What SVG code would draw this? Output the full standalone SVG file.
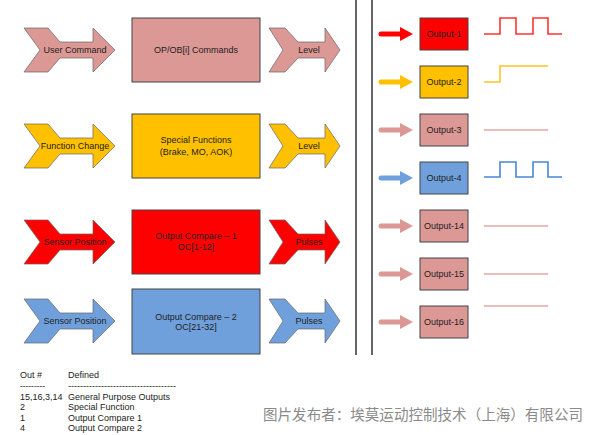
<svg xmlns="http://www.w3.org/2000/svg" xmlns:xlink="http://www.w3.org/1999/xlink" width="600" height="435" viewBox="0 0 600 435">
<style>
.t{font-family:"Liberation Sans",Arial,sans-serif;font-size:9px;fill:#222;text-anchor:middle}
.lg{font-family:"Liberation Sans",Arial,sans-serif;font-size:9px;fill:#222}
.box{stroke:#444;stroke-width:1}
.chev{stroke:#666;stroke-width:0.7}
.pink{fill:#dc9894}.yel{fill:#ffc000}.red{fill:#ff0000}.blu{fill:#6fa0dc}
.wave{fill:none;stroke-width:1.6}
.shaft{stroke-width:5;stroke-linecap:round}
.sep{stroke:#333;stroke-width:1.5}
</style>
<defs>
<path id="bigchev" d="M0,0 H24 L36,14 H69 V0 L91,22 L69,44 V30 H36 L24,44 H0 L16,22 Z"/>
<path id="smallchev" d="M0,0 H16 L29,14 H56 V0 L71,22 L56,44 V30 H29 L16,44 H0 L14,22 Z"/>
<path id="rarrow" d="M0,-7 L13,0 L0,7 Z"/>
</defs>
<rect width="600" height="435" fill="#fff"/>

<g id="connectors">
<line class="sep" x1="356" y1="0" x2="356" y2="355"/>
<line class="sep" x1="372" y1="0" x2="372" y2="355"/>
<g id="arrow-out1"><line class="shaft" x1="381" y1="34" x2="402" y2="34" stroke="#ff0000"/><use xlink:href="#rarrow" x="400" y="34" fill="#ff0000"/></g>
<g id="arrow-out2"><line class="shaft" x1="381" y1="82" x2="402" y2="82" stroke="#ffc000"/><use xlink:href="#rarrow" x="400" y="82" fill="#ffc000"/></g>
<g id="arrow-out3"><line class="shaft" x1="381" y1="130" x2="402" y2="130" stroke="#dc9894"/><use xlink:href="#rarrow" x="400" y="130" fill="#dc9894"/></g>
<g id="arrow-out4"><line class="shaft" x1="381" y1="178" x2="402" y2="178" stroke="#6fa0dc"/><use xlink:href="#rarrow" x="400" y="178" fill="#6fa0dc"/></g>
<g id="arrow-out14"><line class="shaft" x1="381" y1="226" x2="402" y2="226" stroke="#dc9894"/><use xlink:href="#rarrow" x="400" y="226" fill="#dc9894"/></g>
<g id="arrow-out15"><line class="shaft" x1="381" y1="274" x2="402" y2="274" stroke="#dc9894"/><use xlink:href="#rarrow" x="400" y="274" fill="#dc9894"/></g>
<g id="arrow-out16"><line class="shaft" x1="381" y1="322" x2="402" y2="322" stroke="#dc9894"/><use xlink:href="#rarrow" x="400" y="322" fill="#dc9894"/></g>
</g>

<g id="row1">
<g id="in-user-command"><use xlink:href="#bigchev" x="24" y="28" class="pink chev"/><text class="t" x="75" y="53">User Command</text></g>
<g id="box-opob"><rect class="box pink" x="132" y="18" width="128" height="64"/><text class="t" x="196" y="53">OP/OB[i] Commands</text></g>
<g id="out-level1"><use xlink:href="#smallchev" x="269" y="28" class="pink chev"/><text class="t" x="309" y="53">Level</text></g>
</g>

<g id="row2">
<g id="in-function-change"><use xlink:href="#bigchev" x="24" y="124" class="yel chev"/><text class="t" x="75" y="149">Function Change</text></g>
<g id="box-special"><rect class="box yel" x="132" y="114" width="128" height="64"/><text class="t" x="196" y="143">Special Functions</text><text class="t" x="196" y="155">(Brake, MO, AOK)</text></g>
<g id="out-level2"><use xlink:href="#smallchev" x="269" y="124" class="yel chev"/><text class="t" x="309" y="149">Level</text></g>
</g>

<g id="row3">
<g id="in-sensor1"><use xlink:href="#bigchev" x="24" y="220" class="red chev"/><text class="t" x="75" y="245">Sensor Position</text></g>
<g id="box-oc1"><rect class="box red" x="132" y="210" width="128" height="64"/><text class="t" x="196" y="239">Output Compare – 1</text><text class="t" x="196" y="250">OC[1-12]</text></g>
<g id="out-pulses1"><use xlink:href="#smallchev" x="269" y="220" class="red chev"/><text class="t" x="309" y="245">Pulses</text></g>
</g>

<g id="row4">
<g id="in-sensor2"><use xlink:href="#bigchev" x="24" y="299" class="blu chev"/><text class="t" x="75" y="324">Sensor Position</text></g>
<g id="box-oc2"><rect class="box blu" x="132" y="289" width="128" height="65"/><text class="t" x="196" y="320">Output Compare – 2</text><text class="t" x="196" y="330">OC[21-32]</text></g>
<g id="out-pulses2"><use xlink:href="#smallchev" x="269" y="299" class="blu chev"/><text class="t" x="309" y="324">Pulses</text></g>
</g>

<g id="out1"><rect class="box red" x="420" y="18" width="48" height="32"/><text class="t" x="444" y="37">Output-1</text></g>
<g id="out2"><rect class="box yel" x="420" y="66" width="48" height="32"/><text class="t" x="444" y="85">Output-2</text></g>
<g id="out3"><rect class="box pink" x="420" y="114" width="48" height="32"/><text class="t" x="444" y="133">Output-3</text></g>
<g id="out4"><rect class="box blu" x="420" y="162" width="48" height="32"/><text class="t" x="444" y="181">Output-4</text></g>
<g id="out14"><rect class="box pink" x="420" y="210" width="48" height="32"/><text class="t" x="444" y="229">Output-14</text></g>
<g id="out15"><rect class="box pink" x="420" y="258" width="48" height="32"/><text class="t" x="444" y="277">Output-15</text></g>
<g id="out16"><rect class="box pink" x="420" y="306" width="48" height="32"/><text class="t" x="444" y="325">Output-16</text></g>

<g id="waveforms">
<path class="wave" stroke="#ff3333" d="M484,34 H500 V18 H516 V34 H533 V18 H548 V34 H562"/>
<path class="wave" stroke="#ffc426" d="M484,82 H500 V66 H548"/>
<line class="wave" stroke="#e6a4a4" x1="484" y1="130" x2="548" y2="130"/>
<path class="wave" stroke="#4a86d8" d="M484,177 H500 V162 H516 V177 H533 V162 H548 V177 H562"/>
<line class="wave" stroke="#e6a4a4" x1="484" y1="226" x2="548" y2="226"/>
<line class="wave" stroke="#e6a4a4" x1="484" y1="274" x2="548" y2="274"/>
<line class="wave" stroke="#e6a4a4" x1="484" y1="306" x2="548" y2="306"/>
</g>

<g id="legend">
<text class="lg" x="20" y="378">Out #</text><text class="lg" x="68" y="378">Defined</text>
<text class="lg" x="20" y="389" textLength="25" lengthAdjust="spacingAndGlyphs">---------</text>
<text class="lg" x="68" y="389" textLength="108" lengthAdjust="spacingAndGlyphs">------------------------------------</text>
<text class="lg" x="20" y="400">15,16,3,14</text><text class="lg" x="68" y="400">General Purpose Outputs</text>
<text class="lg" x="20" y="410">2</text><text class="lg" x="68" y="410">Special Function</text>
<text class="lg" x="20" y="421">1</text><text class="lg" x="68" y="421">Output Compare 1</text>
<text class="lg" x="20" y="431">4</text><text class="lg" x="68" y="431">Output Compare 2</text>
</g>

<text x="263" y="420" font-family="'Noto Sans CJK SC',sans-serif" font-size="14.5" fill="#8a8a8a" textLength="320" lengthAdjust="spacingAndGlyphs">图片发布者：埃莫运动控制技术（上海）有限公司</text>
</svg>
